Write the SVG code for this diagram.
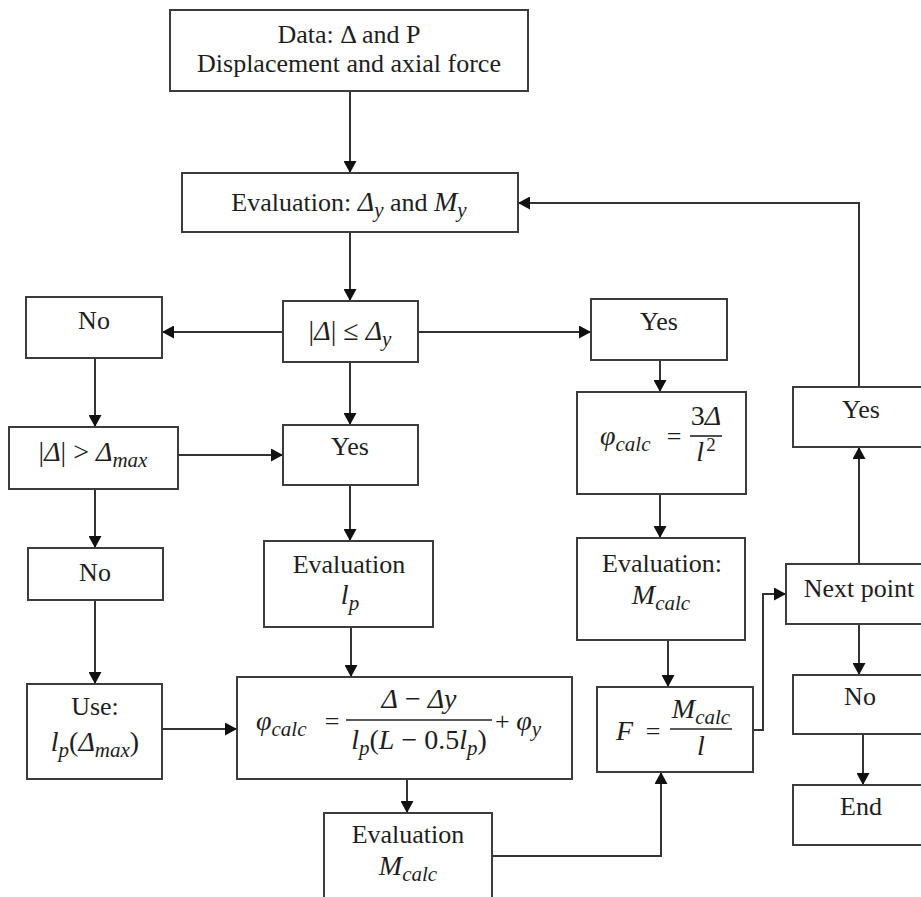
<svg xmlns="http://www.w3.org/2000/svg" width="921" height="897" viewBox="0 0 921 897">
<style>
.box{fill:#fff;stroke:#3c3c3c;stroke-width:2}
.t{font-family:"Liberation Serif","Times New Roman",serif;font-size:26px;fill:#1e1e1e}
.m{font-family:"Liberation Serif","Times New Roman",serif;font-style:italic;font-size:28px;fill:#1e1e1e}
.c{text-anchor:middle}
.s{font-size:21px}
.ln{fill:none;stroke:#333;stroke-width:2}
.fr{stroke:#222;stroke-width:1.6}
</style>
<defs>
<marker id="ah" markerUnits="userSpaceOnUse" markerWidth="13" markerHeight="13" refX="12" refY="6.5" orient="auto">
<path d="M0,0 L12,6.5 L0,13 z" fill="#111"/>
</marker>
</defs>
<rect width="921" height="897" fill="#fff"/>

<g id="connectors" class="ln">
<path d="M350,91 V173" marker-end="url(#ah)"/>
<path d="M350,232 V301" marker-end="url(#ah)"/>
<path d="M283,332 H162" marker-end="url(#ah)"/>
<path d="M418,332 H591" marker-end="url(#ah)"/>
<path d="M95,358 V427" marker-end="url(#ah)"/>
<path d="M350,362 V425" marker-end="url(#ah)"/>
<path d="M178,455 H283" marker-end="url(#ah)"/>
<path d="M95,489 V548" marker-end="url(#ah)"/>
<path d="M350,485 V541" marker-end="url(#ah)"/>
<path d="M660,360 V392" marker-end="url(#ah)"/>
<path d="M95,600 V684" marker-end="url(#ah)"/>
<path d="M351,627 V677" marker-end="url(#ah)"/>
<path d="M660,494 V538" marker-end="url(#ah)"/>
<path d="M162,729 H237" marker-end="url(#ah)"/>
<path d="M668,640 V687" marker-end="url(#ah)"/>
<path d="M407,779 V813" marker-end="url(#ah)"/>
<path d="M492,856 H661 V772" marker-end="url(#ah)"/>
<path d="M753,730 H763 V594 H786" marker-end="url(#ah)"/>
<path d="M859,564 V447" marker-end="url(#ah)"/>
<path d="M859,387 V203 H518" marker-end="url(#ah)"/>
<path d="M859,624 V675" marker-end="url(#ah)"/>
<path d="M863,734 V785" marker-end="url(#ah)"/>
</g>

<g id="n-data">
<rect class="box" x="170" y="10" width="358" height="81"/>
<text class="t c" x="349" y="43">Data: Δ and P</text>
<text class="t c" x="349" y="72">Displacement and axial force</text>
</g>

<g id="n-eval-y">
<rect class="box" x="182" y="173" width="336" height="59"/>
<text class="t c" x="349" y="211">Evaluation: <tspan class="m">Δ</tspan><tspan class="m s" dy="6">y</tspan><tspan dy="-6"> and </tspan><tspan class="m">M</tspan><tspan class="m s" dy="6">y</tspan></text>
</g>

<g id="n-cond">
<rect class="box" x="283" y="301" width="135" height="61"/>
<text class="m c" x="350" y="340"><tspan font-style="normal">|</tspan>Δ<tspan font-style="normal">| ≤ </tspan>Δ<tspan class="s" dy="6">y</tspan></text>
</g>

<g id="n-no1">
<rect class="box" x="26" y="297" width="136" height="61"/>
<text class="t c" x="94" y="329">No</text>
</g>

<g id="n-yes-right">
<rect class="box" x="591" y="299" width="136" height="61"/>
<text class="t c" x="659" y="330">Yes</text>
</g>

<g id="n-cond-max">
<rect class="box" x="9" y="427" width="169" height="62"/>
<text class="m c" x="93" y="461"><tspan font-style="normal">|</tspan>Δ<tspan font-style="normal">| &gt; </tspan>Δ<tspan class="s" dy="6">max</tspan></text>
</g>

<g id="n-yes-mid">
<rect class="box" x="283" y="425" width="135" height="60"/>
<text class="t c" x="350" y="455">Yes</text>
</g>

<g id="n-phi-elastic">
<rect class="box" x="577" y="392" width="169" height="102"/>
<text class="m" x="600" y="445">φ<tspan class="s" dy="6">calc</tspan></text>
<text class="t c" x="674" y="445">=</text>
<text class="m c" x="706" y="425"><tspan font-style="normal">3</tspan>Δ</text>
<line class="fr" x1="690" y1="436" x2="722" y2="436"/>
<text class="m c" x="706" y="461">l<tspan font-style="normal" font-size="19" dx="2" dy="-10">2</tspan></text>
</g>

<g id="n-yes-loop">
<rect class="box" x="793" y="387" width="140" height="60"/>
<text class="t c" x="861" y="418">Yes</text>
</g>

<g id="n-no2">
<rect class="box" x="28" y="548" width="135" height="52"/>
<text class="t c" x="95" y="581">No</text>
</g>

<g id="n-eval-lp">
<rect class="box" x="264" y="541" width="169" height="86"/>
<text class="t c" x="349" y="573">Evaluation</text>
<text class="m c" x="350" y="604">l<tspan class="s" dy="6">p</tspan></text>
</g>

<g id="n-eval-mcalc1">
<rect class="box" x="577" y="538" width="168" height="102"/>
<text class="t c" x="662" y="572">Evaluation:</text>
<text class="m c" x="661" y="604">M<tspan class="s" dy="6">calc</tspan></text>
</g>

<g id="n-next">
<rect class="box" x="786" y="564" width="147" height="60"/>
<text class="t c" x="859" y="597">Next point</text>
</g>

<g id="n-use">
<rect class="box" x="27" y="684" width="135" height="95"/>
<text class="t c" x="95" y="715">Use:</text>
<text class="m c" x="95" y="751">l<tspan class="s" dy="6">p</tspan><tspan font-style="normal" dy="-6">(</tspan>Δ<tspan class="s" dy="6">max</tspan><tspan font-style="normal" dy="-6">)</tspan></text>
</g>

<g id="n-phi-plastic">
<rect class="box" x="237" y="677" width="335" height="102"/>
<text class="m" x="256" y="730">φ<tspan class="s" dy="6">calc</tspan></text>
<text class="t c" x="332" y="730">=</text>
<text class="m c" x="419" y="708">Δ<tspan font-style="normal"> − </tspan>Δy</text>
<line class="fr" x1="346" y1="720" x2="492" y2="720"/>
<text class="m c" x="419" y="749">l<tspan class="s" dy="6">p</tspan><tspan font-style="normal" dy="-6">(</tspan>L<tspan font-style="normal"> − 0.5</tspan>l<tspan class="s" dy="6">p</tspan><tspan font-style="normal" dy="-6">)</tspan></text>
<text class="t" x="495" y="730">+ <tspan class="m">φ</tspan><tspan class="m s" dy="6">y</tspan></text>
</g>

<g id="n-force">
<rect class="box" x="597" y="687" width="156" height="85"/>
<text class="m" x="616" y="740">F</text>
<text class="t c" x="653" y="740">=</text>
<text class="m c" x="701" y="718">M<tspan class="s" dy="6">calc</tspan></text>
<line class="fr" x1="670" y1="729" x2="732" y2="729"/>
<text class="m c" x="701" y="755">l</text>
</g>

<g id="n-no3">
<rect class="box" x="793" y="675" width="140" height="59"/>
<text class="t c" x="860" y="705">No</text>
</g>

<g id="n-eval-mcalc2">
<rect class="box" x="324" y="813" width="168" height="95"/>
<text class="t c" x="408" y="843">Evaluation</text>
<text class="m c" x="408" y="875">M<tspan class="s" dy="6">calc</tspan></text>
</g>

<g id="n-end">
<rect class="box" x="793" y="785" width="140" height="60"/>
<text class="t c" x="861" y="815">End</text>
</g>
</svg>
